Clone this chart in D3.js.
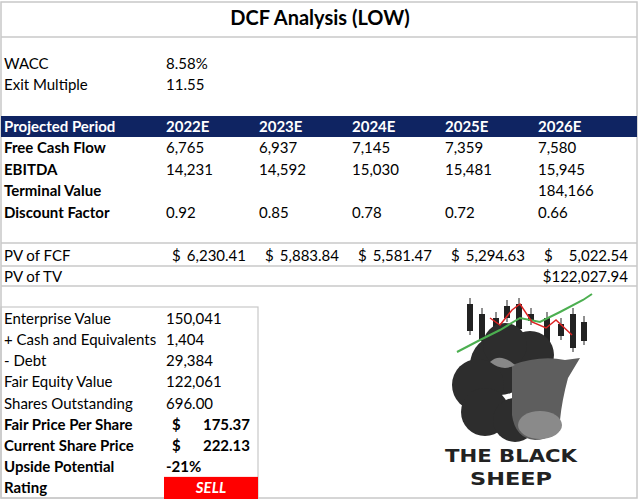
<!DOCTYPE html><html><head><meta charset="utf-8"><script src="https://cdn.jsdelivr.net/npm/d3@7"></script>
<style>body{margin:0;background:#fff}</style></head><body><svg id="c" width="640" height="503"></svg>
<script>
const years=["2022E","2023E","2024E","2025E","2026E"];
const fcf=["6,765","6,937","7,145","7,359","7,580"];
const ebitda=["14,231","14,592","15,030","15,481","15,945"];
const terminal=["","","","","184,166"];
const discount=["0.92","0.85","0.78","0.72","0.66"];
const pvFcf=["6,230.41","5,883.84","5,581.47","5,294.63","5,022.54"];
const pvTv="$122,027.94";
const summaryLabels=["Enterprise Value","+ Cash and Equivalents","- Debt","Fair Equity Value","Shares Outstanding","Fair Price Per Share","Current Share Price","Upside Potential","Rating"];
const summaryValues=["150,041","1,404","29,384","122,061","696.00","175.37","222.13","-21%","SELL"];
const F="Lato, 'Open Sans', sans-serif";
const svg=d3.select("#c");
const x=d3.scaleBand().domain(years).range([163,628]).paddingInner(0);
const grey="#c8c8c8";
function line(x1,y1,x2,y2,c,w){svg.append("line").attr("x1",x1).attr("y1",y1).attr("x2",x2).attr("y2",y2).attr("stroke",c||grey).attr("stroke-width",w||1.5);}
function txt(s,xx,yy,o={}){return svg.append("text").attr("x",xx).attr("y",yy).attr("font-family",F).attr("font-size",o.size||15).attr("font-weight",o.bold?"bold":"normal").attr("font-style",o.italic?"italic":"normal").attr("fill",o.fill||"#000").attr("text-anchor",o.anchor||"start").text(s);}
svg.append("rect").attr("x",1).attr("y",2).attr("width",636).attr("height",496).attr("fill","none").attr("stroke",grey).attr("stroke-width",1.5);
line(1,37,637,37);
txt("DCF Analysis (LOW)",320,25,{size:20,bold:true,anchor:"middle"});
txt("WACC",4,69);txt("8.58%",166,69);
txt("Exit Multiple",4,90);txt("11.55",166,90);
svg.append("rect").attr("x",1).attr("y",116).attr("width",636).attr("height",21).attr("fill","#0f2462");
txt("Projected Period",4,132,{bold:true,fill:"#fff"});
years.forEach(y=>txt(y,x(y)+3,132,{bold:true,fill:"#fff"}));
const rows=[["Free Cash Flow",fcf,153],["EBITDA",ebitda,175],["Terminal Value",terminal,196],["Discount Factor",discount,218]];
rows.forEach(([l,v,yy])=>{txt(l,4,yy,{bold:true});years.forEach((y,i)=>txt(v[i],x(y)+3,yy));});
line(1,243,637,243);
txt("PV of FCF",4,261);
years.forEach((y,i)=>{txt("$",x(y)+9,261);txt(pvFcf[i],x(y)+x.bandwidth()-10+(i==4?10:0),261,{anchor:"end"});});
line(1,266,637,266);
txt("PV of TV",4,282);txt(pvTv,628,282,{anchor:"end"});
line(1,286,637,286);
// summary
svg.append("rect").attr("x",1).attr("y",307).attr("width",257).attr("height",191).attr("fill","none").attr("stroke",grey).attr("stroke-width",1.2);
const sy=d3.scaleBand().domain(summaryLabels).range([308,498]);
svg.append("rect").attr("x",164).attr("y",sy("Rating")).attr("width",94).attr("height",sy.bandwidth()+1).attr("fill","#ff0000");
summaryLabels.forEach((l,i)=>{const yy=sy(l)+sy.bandwidth()-5;const b=i>=5;txt(l,4,yy,{bold:b});
 if(i==5||i==6){txt("$",172,yy,{bold:true});txt(summaryValues[i],250,yy,{bold:true,anchor:"end"});}
 else if(i==8){txt(summaryValues[i],211,yy,{bold:true,italic:true,fill:"#fff",anchor:"middle"});}
 else txt(summaryValues[i],166,yy,{bold:b});});
// logo
const g=svg.append("g");
[[470,298,335],[482,308,345],[496,312,338],[507,300,322],[519,298,333],[531,308,325],[547,312,352],[561,318,340],[573,308,352],[584,316,345]].forEach(([cx,a,b])=>{g.append("line").attr("x1",cx).attr("x2",cx).attr("y1",a).attr("y2",b).attr("stroke","#222").attr("stroke-width",1);g.append("rect").attr("x",cx-3).attr("y",a+6).attr("width",6).attr("height",b-a-10).attr("fill","#222");});
[[500,365,30],[478,385,26],[485,412,24],[515,420,22],[530,355,24],[505,345,22]].forEach(([cx,cy,r])=>g.append("circle").attr("cx",cx).attr("cy",cy).attr("r",r).attr("fill","#2d2d2d"));
g.append("path").attr("d","M512,365 Q540,355 565,360 L580,358 L568,378 Q562,400 560,420 Q555,440 535,440 Q515,438 512,415 Z").attr("fill","#5e5e5e");
g.append("ellipse").attr("cx",540).attr("cy",425).attr("rx",22).attr("ry",14).attr("fill","#8a8a8a");
g.append("path").attr("d","M490,362 Q500,352 515,365 Q503,372 490,362 Z").attr("fill","#888");
g.append("polyline").attr("points","457,352 480,340 500,330 520,318 540,322 560,312 583,300 592,294").attr("fill","none").attr("stroke","#4caf50").attr("stroke-width",2);
g.append("polyline").attr("points","490,318 500,325 512,310 520,304 532,322 546,328 556,320 572,335").attr("fill","none").attr("stroke","#d22").attr("stroke-width",1.5);
txt("THE BLACK",511,462,{size:18,bold:true,anchor:"middle",fill:"#222"}).attr("font-family","'DejaVu Sans', sans-serif").attr("textLength",132).attr("lengthAdjust","spacingAndGlyphs");
txt("SHEEP",511,485,{size:18,bold:true,anchor:"middle",fill:"#222"}).attr("font-family","'DejaVu Sans', sans-serif").attr("textLength",82).attr("lengthAdjust","spacingAndGlyphs");
</script></body></html>
